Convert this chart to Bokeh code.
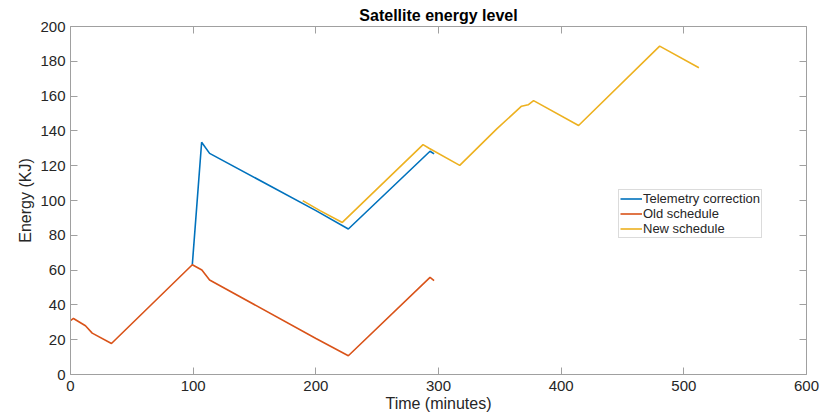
from bokeh.plotting import figure
from bokeh.models import Range1d, LinearAxis, Legend, LegendItem, FixedTicker
from bokeh.embed import file_html
from bokeh.resources import INLINE

# ---- data ----
tel_t = [99.3, 106.9, 113.4, 200.1, 226.5, 293.1, 296.4]
tel_e = [63.1, 133.5, 127.1, 94.2, 83.6, 128.3, 126.8]

old_t = [0, 2.4, 12.2, 17.7, 33.4, 99.3, 107.1, 113.4, 200.1, 226.5, 293.1, 296.4]
old_e = [30.9, 32.2, 28.0, 23.8, 17.8, 63.1, 60.1, 54.3, 20.7, 10.8, 55.8, 53.9]

new_t = [189.3, 203.4, 221.6, 287.4, 292.3, 317.3, 347.5, 367.7, 373.1, 377.5, 414.2, 480.3, 512.3]
new_e = [99.9, 94.2, 87.4, 132.1, 130.0, 120.2, 141.2, 154.2, 155.0, 157.4, 143.1, 188.7, 176.3]

x_ticks = [0, 100, 200, 300, 400, 500, 600]
y_ticks = [0, 20, 40, 60, 80, 100, 120, 140, 160, 180, 200]

series_names = ["Telemetry correction", "Old schedule", "New schedule"]
colors = ["#0072BD", "#D95319", "#EDB120"]

FONT = "Liberation Sans"
AX = "#a0a0a0"
TXT = "#262626"

p = figure(width=829, height=417, output_backend="svg", toolbar_location=None,
           title="Satellite energy level",
           x_range=Range1d(0, 600), y_range=Range1d(0, 200),
           min_border_left=70, min_border_right=23, min_border_top=26, min_border_bottom=43)
p.outline_line_color = None
p.xgrid.visible = False
p.ygrid.visible = False
p.background_fill_color = "white"
p.border_fill_color = "white"

p.title.align = "center"
p.title.text_font = FONT
p.title.text_font_size = "16px"
p.title.text_font_style = "bold"
p.title.text_color = "black"
p.title.standoff = 6


def style_axis(ax, ticks, labels=True):
    ax.ticker = FixedTicker(ticks=ticks)
    ax.axis_line_color = AX
    ax.axis_line_width = 1
    ax.major_tick_line_color = AX
    ax.major_tick_in = 7
    ax.major_tick_out = 0
    ax.minor_tick_line_color = None
    if labels:
        ax.major_label_text_font = FONT
        ax.major_label_text_font_size = "15px"
        ax.major_label_text_color = TXT
        ax.axis_label_text_font = FONT
        ax.axis_label_text_font_size = "16px"
        ax.axis_label_text_font_style = "normal"
        ax.axis_label_text_color = TXT
    else:
        ax.major_label_text_font_size = "1px"
        ax.major_label_text_color = None
        ax.major_label_standoff = 0


xa = p.xaxis[0]
style_axis(xa, x_ticks)
xa.major_label_standoff = 6
xa.axis_label = "Time (minutes)"
xa.axis_label_standoff = 1

ya = p.yaxis[0]
style_axis(ya, y_ticks)
ya.major_label_standoff = 5
ya.axis_label = "Energy (KJ)"
ya.axis_label_standoff = 3

top = LinearAxis()
style_axis(top, x_ticks, labels=False)
p.add_layout(top, "above")
right = LinearAxis()
style_axis(right, y_ticks, labels=False)
p.add_layout(right, "right")

renderers = []
for t, e, c in zip([tel_t, old_t, new_t], [tel_e, old_e, new_e], colors):
    r = p.line(t, e, line_color=c, line_width=1.6)
    renderers.append(r)

legend = Legend(items=[LegendItem(label=n, renderers=[r]) for n, r in zip(series_names, renderers)],
                location=(548, 136), orientation="vertical",
                label_text_font=FONT, label_text_font_size="13px", label_text_color=TXT,
                glyph_width=22, glyph_height=13, label_height=13, label_standoff=1,
                padding=1, spacing=0, margin=0,
                border_line_color="#b8b8b8", border_line_width=1,
                background_fill_color="white", background_fill_alpha=1.0)
p.add_layout(legend, "center")

open("out.html", "w").write(file_html(p, INLINE))
